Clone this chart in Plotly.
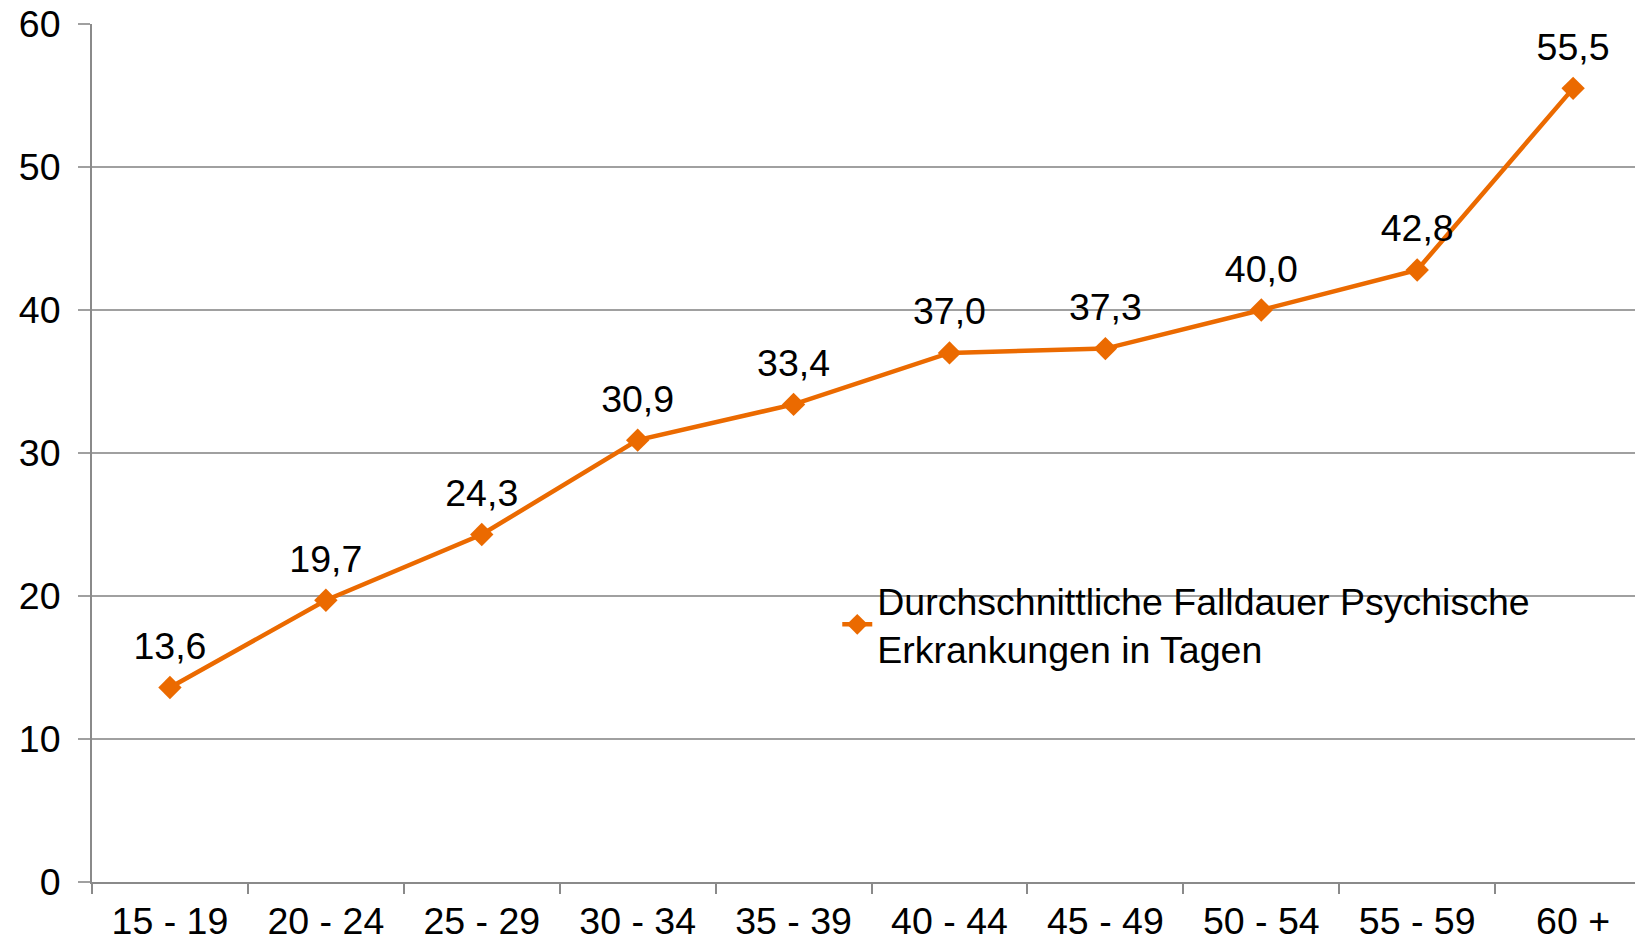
import plotly.graph_objects as go

categories = ["15 - 19", "20 - 24", "25 - 29", "30 - 34", "35 - 39",
              "40 - 44", "45 - 49", "50 - 54", "55 - 59", "60 +"]
values = [13.6, 19.7, 24.3, 30.9, 33.4, 37.0, 37.3, 40.0, 42.8, 55.5]
labels = [f"{v:.1f}".replace(".", ",") for v in values]
y_ticks = [0, 10, 20, 30, 40, 50, 60]
series_name = "Durchschnittliche Falldauer Psychische<br>Erkrankungen in Tagen"

ORANGE = "#EB6A00"
FONT = "Liberation Sans, Arial, sans-serif"
FS = 37.5

fig = go.Figure()
fig.add_trace(go.Scatter(
    x=categories, y=values, mode="lines+markers",
    name=series_name,
    line=dict(color=ORANGE, width=4.5),
    marker=dict(symbol="diamond", size=18, color=ORANGE),
    cliponaxis=False,
))
# data labels (offset above the points via a transparent marker)
fig.add_trace(go.Scatter(
    x=categories, y=values, mode="markers+text",
    marker=dict(size=29, color="rgba(0,0,0,0)"),
    text=labels, textposition="top center",
    textfont=dict(size=FS, color="black", family=FONT),
    showlegend=False, hoverinfo="skip", cliponaxis=False,
))

fig.update_layout(
    width=1635, height=942,
    margin=dict(l=92, r=0, t=24, b=60),
    paper_bgcolor="white", plot_bgcolor="white",
    font=dict(family=FONT, size=FS, color="black"),
    showlegend=True,
    legend=dict(x=0.483, y=0.30, xanchor="left", yanchor="middle",
                bgcolor="rgba(0,0,0,0)", font=dict(size=FS, family=FONT),
                itemwidth=30, tracegroupgap=0),
    xaxis=dict(
        type="category", range=[-0.5, 9.397], automargin=False,
        showgrid=False, showline=True, linecolor="#8a8a8a", linewidth=2,
        ticks="outside", ticklen=10, tickcolor="#8a8a8a", tickwidth=2,
        tickson="boundaries", tickfont=dict(size=FS),
        ticklabelstandoff=5, ticklabeloverflow="allow",
    ),
    yaxis=dict(
        range=[0, 60], tickmode="array", tickvals=y_ticks,
        ticktext=[str(t) for t in y_ticks], automargin=False,
        showgrid=True, gridcolor="#a0a0a0", gridwidth=2,
        showline=True, linecolor="#8a8a8a", linewidth=2,
        ticks="outside", ticklen=12, tickcolor="#a0a0a0", tickwidth=2,
        ticklabelstandoff=10, ticklabeloverflow="allow",
        zeroline=False, tickfont=dict(size=FS),
    ),
)

# remove the default page margin so the figure fills the window exactly
fig.write_html("out.html",
               config={"displayModeBar": False},
               post_script="document.body.style.margin='0';"
                           "document.body.style.overflow='hidden';")
